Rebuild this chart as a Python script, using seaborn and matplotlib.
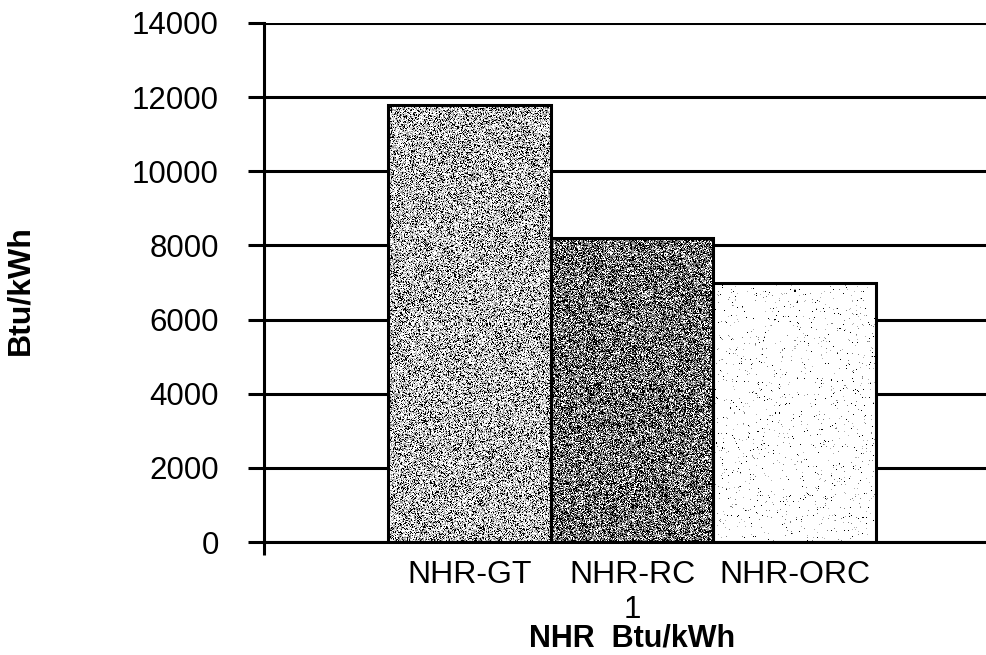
import numpy as np
import pandas as pd
import matplotlib
matplotlib.use("Agg")
import matplotlib.pyplot as plt
import seaborn as sns

# Net heat rate of the three cycles
group = ["1", "1", "1"]
series = ["NHR-GT", "NHR-RC", "NHR-ORC"]
values = [11800, 8200, 7000]
y_ticks = [0, 2000, 4000, 6000, 8000, 10000, 12000, 14000]

df = pd.DataFrame({"group": group, "series": series, "value": values})

sns.set_theme(style="white")
plt.rcParams["font.family"] = ["Liberation Sans", "DejaVu Sans"]

fig = plt.figure(figsize=(9.86, 6.55), dpi=100)
ax = fig.add_axes([264 / 986, 1 - 542 / 655, (1000 - 264) / 986, (542 - 23) / 655])

base_colors = ["#a8a8a8", "#6a6a6a", "#f4f4f4"]
sns.barplot(data=df, x="group", y="value", hue="series", hue_order=series,
            palette=base_colors, saturation=1, width=0.663, legend=False,
            edgecolor="black", linewidth=2.2, ax=ax, errorbar=None)

# stippled fills for each bar, clipped to the bar outline
rng = np.random.default_rng(11)
bars = [p for p in ax.patches if p.get_height() > 0]
bars.sort(key=lambda p: p.get_x())


def texture(kind, h, w):
    if kind == 0:
        t = rng.choice([0.0, 0.55, 0.8, 1.0], size=(h, w), p=[0.2, 0.2, 0.25, 0.35])
    elif kind == 1:
        t = rng.choice([0.0, 0.45, 0.6, 1.0], size=(h, w), p=[0.36, 0.22, 0.2, 0.22])
    else:
        t = np.ones((h, w))
        m = rng.random((h, w)) < 0.03
        t[m] = rng.choice([0.0, 0.5, 0.7], size=m.sum())
    return t


for i, p in enumerate(bars):
    x0, w, hgt = p.get_x(), p.get_width(), p.get_height()
    npx_w = 162
    npx_h = max(int(hgt / 14000 * 519), 2)
    img = texture(i, npx_h, npx_w)
    im = ax.imshow(img, cmap="gray", vmin=0, vmax=1, interpolation="nearest",
                   extent=[x0, x0 + w, 0, hgt], aspect="auto", zorder=0.8)
    im.set_clip_path(p)
    p.set_facecolor("none")
    p.set_zorder(1)
    ax.annotate(series[i], xy=(x0 + w / 2, 0), xycoords=("data", "axes fraction"),
                xytext=(0, -13), textcoords="offset points", ha="center", va="top",
                fontsize=23, color="black")

ax.set_xlim(-0.5, 0.5)
ax.set_ylim(0, 14000)
ax.set_yticks(y_ticks)
ax.set_yticklabels([str(v) for v in y_ticks])
ax.set_xticks([0])
ax.set_xticklabels(["1"])
ax.set_xticks([-0.5], minor=True)

ax.set_axisbelow(True)
ax.yaxis.grid(True, color="black", linewidth=2.2)
ax.xaxis.grid(False)

for s in ["top", "right"]:
    ax.spines[s].set_visible(False)
for s in ["left", "bottom"]:
    ax.spines[s].set_color("black")
    ax.spines[s].set_linewidth(2.2)

ax.tick_params(axis="y", direction="out", length=11.5, width=2.2, pad=21,
               labelsize=22.5, colors="black", left=True)
ax.tick_params(axis="x", which="major", length=0, pad=38,
               labelsize=22.5, colors="black", bottom=True)
ax.tick_params(axis="x", which="minor", direction="out", length=9.4, width=2.2,
               colors="black", bottom=True)

ax.set_xlabel("NHR  Btu/kWh", fontsize=22, fontweight="bold", color="black")
ax.xaxis.set_label_coords(0.5, -0.157)
ax.set_ylabel("Btu/kWh", fontsize=23, fontweight="bold", color="black")
ax.yaxis.set_label_coords(-0.31, 0.485)

fig.savefig("out.png", dpi=100)
